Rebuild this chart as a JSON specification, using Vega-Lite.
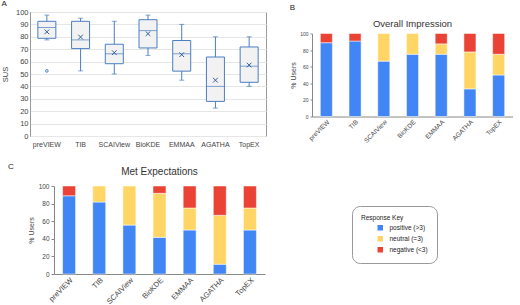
{
  "$schema": "https://vega.github.io/schema/vega-lite/v6.json",
  "padding": {"left": 0, "top": -1, "right": 0, "bottom": 0},
  "config": {
    "font": "Liberation Sans",
    "view": {"stroke": null},
    "title": {"fontWeight": "normal", "color": "#222"},
    "axis": {"labelColor": "#444", "titleColor": "#444", "titleFontWeight": "normal", "domainColor": "#888", "tickColor": "#888", "labelOverlap": false}
  },
  "resolve": {"scale": {"color": "independent"}, "legend": {"color": "independent"}},
  "datasets": {
    "none": [],
    "sus": [
      {"tool": "preVIEW", "min": 77.5, "q1": 78.8, "median": 87.5, "q3": 92.5, "max": 97.5, "mean": 84, "outlier": 52.5},
      {"tool": "TIB", "min": 52.5, "q1": 70.5, "median": 77.5, "q3": 92.5, "max": 95, "mean": 79.8},
      {"tool": "SCAIView", "min": 50, "q1": 58.3, "median": 66.3, "q3": 74, "max": 92.5, "mean": 67.2},
      {"tool": "BioKDE", "min": 65, "q1": 71, "median": 85, "q3": 93.8, "max": 97.5, "mean": 82.5},
      {"tool": "EMMAA", "min": 45, "q1": 52.3, "median": 66.3, "q3": 77, "max": 90, "mean": 65.6},
      {"tool": "AGATHA", "min": 22.5, "q1": 27.9, "median": 40, "q3": 63.7, "max": 80, "mean": 45},
      {"tool": "TopEX", "min": 40, "q1": 43.3, "median": 56.3, "q3": 71.8, "max": 80, "mean": 57.2}
    ],
    "overall": [
      {"tool": "preVIEW", "response": "positive (>3)", "k": 1, "pct": 88.9},
      {"tool": "preVIEW", "response": "negative (<3)", "k": 3, "pct": 11.1},
      {"tool": "TIB", "response": "positive (>3)", "k": 1, "pct": 90.9},
      {"tool": "TIB", "response": "negative (<3)", "k": 3, "pct": 9.1},
      {"tool": "SCAIView", "response": "positive (>3)", "k": 1, "pct": 66.7},
      {"tool": "SCAIView", "response": "neutral (=3)", "k": 2, "pct": 33.3},
      {"tool": "BioKDE", "response": "positive (>3)", "k": 1, "pct": 75},
      {"tool": "BioKDE", "response": "neutral (=3)", "k": 2, "pct": 25},
      {"tool": "EMMAA", "response": "positive (>3)", "k": 1, "pct": 75},
      {"tool": "EMMAA", "response": "neutral (=3)", "k": 2, "pct": 12.5},
      {"tool": "EMMAA", "response": "negative (<3)", "k": 3, "pct": 12.5},
      {"tool": "AGATHA", "response": "positive (>3)", "k": 1, "pct": 33.3},
      {"tool": "AGATHA", "response": "neutral (=3)", "k": 2, "pct": 44.5},
      {"tool": "AGATHA", "response": "negative (<3)", "k": 3, "pct": 22.2},
      {"tool": "TopEX", "response": "positive (>3)", "k": 1, "pct": 50},
      {"tool": "TopEX", "response": "neutral (=3)", "k": 2, "pct": 25},
      {"tool": "TopEX", "response": "negative (<3)", "k": 3, "pct": 25}
    ],
    "met": [
      {"tool": "preVIEW", "response": "positive (>3)", "k": 1, "pct": 88.9},
      {"tool": "preVIEW", "response": "negative (<3)", "k": 3, "pct": 11.1},
      {"tool": "TIB", "response": "positive (>3)", "k": 1, "pct": 81.8},
      {"tool": "TIB", "response": "neutral (=3)", "k": 2, "pct": 18.2},
      {"tool": "SCAIView", "response": "positive (>3)", "k": 1, "pct": 55.6},
      {"tool": "SCAIView", "response": "neutral (=3)", "k": 2, "pct": 44.4},
      {"tool": "BioKDE", "response": "positive (>3)", "k": 1, "pct": 41.7},
      {"tool": "BioKDE", "response": "neutral (=3)", "k": 2, "pct": 50},
      {"tool": "BioKDE", "response": "negative (<3)", "k": 3, "pct": 8.3},
      {"tool": "EMMAA", "response": "positive (>3)", "k": 1, "pct": 50},
      {"tool": "EMMAA", "response": "neutral (=3)", "k": 2, "pct": 25},
      {"tool": "EMMAA", "response": "negative (<3)", "k": 3, "pct": 25},
      {"tool": "AGATHA", "response": "positive (>3)", "k": 1, "pct": 11.1},
      {"tool": "AGATHA", "response": "neutral (=3)", "k": 2, "pct": 55.6},
      {"tool": "AGATHA", "response": "negative (<3)", "k": 3, "pct": 33.3},
      {"tool": "TopEX", "response": "positive (>3)", "k": 1, "pct": 50},
      {"tool": "TopEX", "response": "neutral (=3)", "k": 2, "pct": 25},
      {"tool": "TopEX", "response": "negative (<3)", "k": 3, "pct": 25}
    ]
  },
  "vconcat": [
    {
      "resolve": {"scale": {"color": "independent"}, "legend": {"color": "independent"}},
      "hconcat": [
        {
          "title": {"text": "A", "anchor": "start", "frame": "bounds", "fontSize": 8, "offset": 0},
          "width": 236,
          "height": 124,
          "data": {"name": "sus"},
          "view": {"stroke": "#999"},
          "resolve": {"axis": {"y": "independent"}},
          "encoding": {
            "x": {"field": "tool", "type": "nominal", "sort": null, "title": null,
                  "scale": {"paddingInner": 0, "paddingOuter": 0},
                  "axis": {"labelAngle": 0, "labelFontSize": 7, "ticks": false, "domain": false, "labelPadding": 4}}
          },
          "layer": [
            {
              "mark": {"type": "rule", "color": "#4a7fc1", "strokeWidth": 1},
              "encoding": {
                "y": {"field": "min", "type": "quantitative", "scale": {"domain": [0, 100]}, "title": "SUS",
                      "axis": {"values": [0,10,20,30,40,50,60,70,80,90,100], "labelOverlap": false, "grid": true, "gridColor": "#e6e6e6", "labelFontSize": 7.5, "titleFontSize": 7.5, "ticks": false, "domainColor": "#999", "titlePadding": 6}},
                "y2": {"field": "max"}
              }
            },
            {
              "mark": {"type": "tick", "color": "#4a7fc1", "size": 5, "thickness": 1},
              "encoding": {"y": {"field": "max", "type": "quantitative", "axis": null}}
            },
            {
              "mark": {"type": "tick", "color": "#4a7fc1", "size": 5, "thickness": 1},
              "encoding": {"y": {"field": "min", "type": "quantitative", "axis": null}}
            },
            {
              "mark": {"type": "bar", "size": 18, "fill": "#f2f2f2", "stroke": "#4a7fc1", "strokeWidth": 1},
              "encoding": {"y": {"field": "q1", "type": "quantitative", "axis": null}, "y2": {"field": "q3"}}
            },
            {
              "mark": {"type": "tick", "color": "#4a7fc1", "size": 18, "thickness": 1},
              "encoding": {"y": {"field": "median", "type": "quantitative", "axis": null}}
            },
            {
              "mark": {"type": "point", "shape": "M-1,-1L1,1M1,-1L-1,1", "filled": false, "color": "#2f5f9f", "size": 22, "strokeWidth": 1, "opacity": 1},
              "encoding": {"y": {"field": "mean", "type": "quantitative", "axis": null}}
            },
            {
              "mark": {"type": "point", "shape": "circle", "filled": false, "color": "#4a7fc1", "size": 7, "strokeWidth": 1, "opacity": 1},
              "encoding": {"y": {"field": "outlier", "type": "quantitative", "axis": null}}
            }
          ]
        },
        {
          "title": {"text": "B", "anchor": "start", "frame": "bounds", "fontSize": 8, "offset": 0},
          "spacing": 5.5,
          "vconcat": [
            {
              "width": 1,
              "height": 1,
              "data": {"name": "none"},
              "mark": {"type": "point", "opacity": 0},
              "encoding": {}
            },
            {
              "title": {"text": "Overall Impression", "fontSize": 9.5, "offset": 3.5, "color": "#333"},
              "width": 201,
              "height": 83,
              "data": {"name": "overall"},
              "mark": {"type": "bar", "stroke": "white", "strokeWidth": 0.5},
              "encoding": {
                "x": {"field": "tool", "type": "nominal", "sort": ["preVIEW","TIB","SCAIView","BioKDE","EMMAA","AGATHA","TopEX"], "title": null,
                      "scale": {"paddingInner": 0.58, "paddingOuter": 0.29},
                      "axis": {"labelAngle": -45, "labelFontSize": 6.5, "ticks": false, "labelPadding": 2}},
                "y": {"field": "pct", "type": "quantitative", "stack": "zero", "scale": {"domain": [0, 100]}, "title": "% Users",
                      "axis": {"values": [0,20,40,60,80,100], "grid": false, "labelFontSize": 5, "tickSize": 2, "titleFontSize": 7, "titlePadding": 3, "labelPadding": 2}},
                "color": {"field": "response", "type": "nominal", "legend": null,
                          "scale": {"domain": ["positive (>3)", "neutral (=3)", "negative (<3)"], "range": ["#4285F4", "#FFD666", "#EA4335"]}},
                "order": {"field": "k"}
              }
            }
          ]
        }
      ],
      "spacing": 22
    },
    {
      "spacing": -4,
      "resolve": {"scale": {"color": "independent"}, "legend": {"color": "independent"}},
      "hconcat": [
        {
          "title": {"text": "C", "anchor": "start", "frame": "bounds", "fontSize": 8, "offset": 15, "dx": -22},
          "width": 1,
          "height": 1,
          "data": {"name": "none"},
          "mark": {"type": "point", "opacity": 0},
          "encoding": {}
        },
        {
          "title": {"text": "Met Expectations", "fontSize": 10, "offset": 6, "color": "#333"},
          "width": 211,
          "height": 88,
          "data": {"name": "met"},
          "mark": {"type": "bar", "stroke": "white", "strokeWidth": 0.5},
          "encoding": {
            "x": {"field": "tool", "type": "nominal", "sort": ["preVIEW","TIB","SCAIView","BioKDE","EMMAA","AGATHA","TopEX"], "title": null,
                  "scale": {"paddingInner": 0.57, "paddingOuter": 0.285},
                  "axis": {"labelAngle": -45, "labelFontSize": 7.5, "ticks": false, "labelPadding": 2}},
            "y": {"field": "pct", "type": "quantitative", "stack": "zero", "scale": {"domain": [0, 100]}, "title": "% Users",
                  "axis": {"values": [0,20,40,60,80,100], "grid": false, "labelFontSize": 6.5, "tickSize": 3, "titleFontSize": 7, "titlePadding": 4, "labelPadding": 2}},
            "color": {"field": "response", "type": "nominal",
                      "scale": {"domain": ["positive (>3)", "neutral (=3)", "negative (<3)"], "range": ["#4285F4", "#FFD666", "#EA4335"]},
                      "legend": {"orient": "none", "legendX": 298, "legendY": 20, "title": "Response Key",
                                 "titleFontSize": 6.5, "titleFontWeight": "normal", "titleColor": "#222", "titlePadding": 3,
                                 "labelFontSize": 6.5, "labelColor": "#222", "labelOffset": 6, "labelExpr": "datum.label + '          '",
                                 "symbolType": "square", "symbolSize": 30,
                                 "symbolStrokeColor": "#555", "symbolStrokeWidth": 0.5, "symbolOffset": 16, "rowPadding": 3,
                                 "strokeColor": "#999", "cornerRadius": 8, "padding": 9, "fillColor": "white",
                                 "encode": {"symbols": {"update": {"fill": {"signal": "datum.value === 'positive (>3)' ? '#1f6fe5' : datum.value === 'neutral (=3)' ? '#f5ee1a' : '#e01b1b'"}, "opacity": {"value": 1}}}}}},
            "order": {"field": "k"}
          }
        }
      ]
    }
  ],
  "spacing": 15
}
